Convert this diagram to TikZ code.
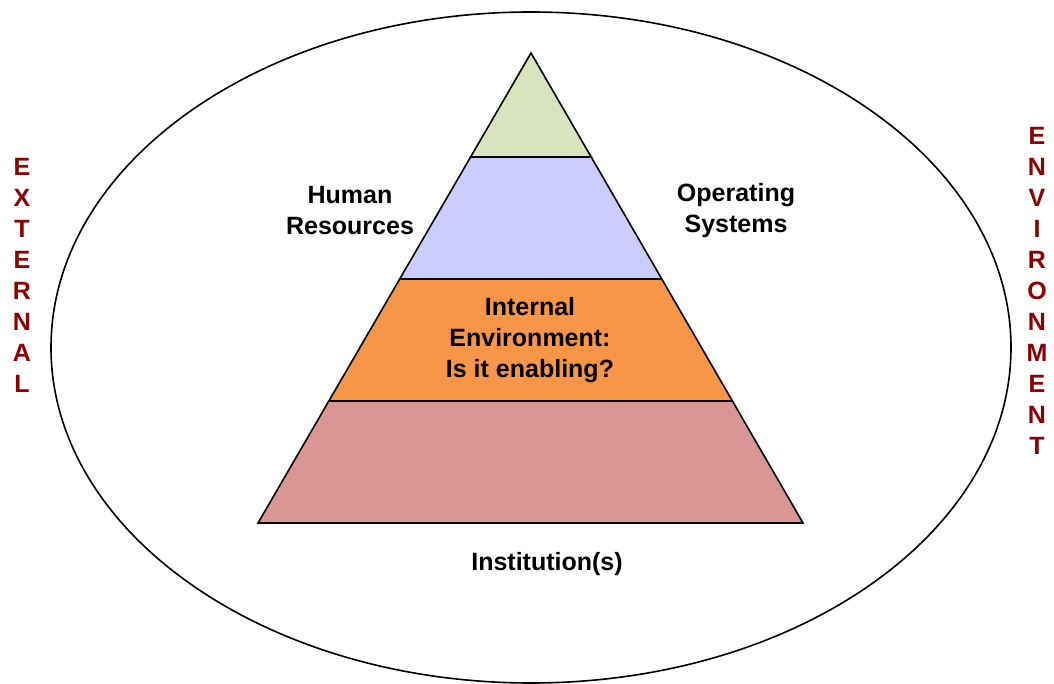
\documentclass[tikz,border=0pt]{standalone}
\usepackage{fontspec}
\setmainfont{Liberation Sans}
\usetikzlibrary{calc}
\definecolor{tipgreen}{HTML}{D7E4BD}
\definecolor{hrblue}{HTML}{CCCCFF}
\definecolor{envorange}{HTML}{F79646}
\definecolor{instrose}{HTML}{D99694}
\definecolor{extred}{HTML}{8B0000}

\begin{document}
\begin{tikzpicture}[x=1pt,y=-1pt,line width=1.6pt,
  lbl/.style={font=\bfseries\fontsize{25}{31}\selectfont,align=center},
  side/.style={lbl,text=extred}]
\useasboundingbox (0,0) rectangle (1054,684);
\draw (531,347.5) ellipse [x radius=480, y radius=335.5];

\coordinate (top) at (531,53);
\coordinate (bl) at (258,523);
\coordinate (br) at (803,523);
\coordinate (l1) at ($(top)!0.2213!(bl)$);
\coordinate (r1) at ($(top)!0.2213!(br)$);
\coordinate (l2) at ($(top)!0.4809!(bl)$);
\coordinate (r2) at ($(top)!0.4809!(br)$);
\coordinate (l3) at ($(top)!0.7404!(bl)$);
\coordinate (r3) at ($(top)!0.7404!(br)$);
\filldraw [fill=tipgreen] (top) -- (r1) -- (l1) -- cycle;
\filldraw [fill=hrblue] (l1) -- (r1) -- (r2) -- (l2) -- cycle;
\filldraw [fill=envorange] (l2) -- (r2) -- (r3) -- (l3) -- cycle;
\filldraw [fill=instrose] (l3) -- (r3) -- (br) -- (bl) -- cycle;

\node (hr) [lbl] at (350,211) {Human\\Resources};
\node (os) [lbl] at (736,211) {Operating\\Systems};
\node (ie) [lbl] at (530,340) {Internal\\Environment:\\Is it enabling?};
\node (inst) [lbl] at (547,564) {Institution(s)};

\node (ext) [side] at (22,275) {E\\X\\T\\E\\R\\N\\A\\L};
\node (env) [side] at (1037,290.5) {E\\N\\V\\I\\R\\O\\N\\M\\E\\N\\T};
\end{tikzpicture}
\end{document}
